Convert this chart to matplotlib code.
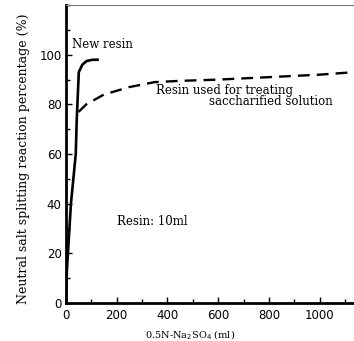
import matplotlib
matplotlib.use("Agg")
import matplotlib.pyplot as plt
from matplotlib.ticker import MultipleLocator

# volume of 0.5N-Na2SO4 passed (ml) vs. splitting percentage (%)
new_x = [0, 4, 20, 39, 43, 51, 65, 82, 105, 130]
new_y = [0, 13, 40, 60, 74, 93, 96, 97.5, 98, 98]

used_x = [50, 80, 150, 250, 350, 450, 600, 800, 1000, 1135]
used_y = [77, 80, 84, 87, 89, 89.5, 90, 91, 92, 93]

x_ticks = [0, 200, 400, 600, 800, 1000]
y_ticks = [0, 20, 40, 60, 80, 100]

fig = plt.figure(figsize=(3.54, 3.41), dpi=100)
ax = fig.add_axes([0.186, 0.111, 0.814, 0.874])

ax.plot(new_x, new_y, color="black", lw=1.9, solid_capstyle="butt")
ax.plot(used_x, used_y, color="black", lw=1.7, dashes=(5, 3))

ax.set_xlim(0, 1135)
ax.set_ylim(0, 120)
ax.set_xticks(x_ticks)
ax.set_yticks(y_ticks)
ax.xaxis.set_minor_locator(MultipleLocator(100))
ax.yaxis.set_minor_locator(MultipleLocator(10))
ax.tick_params(direction="in", which="both", labelsize=8.5, width=1)
ax.tick_params(which="major", length=4)
ax.tick_params(which="minor", length=3)
ax.tick_params(axis="x", pad=4)
ax.tick_params(axis="y", pad=3)

ax.spines["left"].set_linewidth(2)
ax.spines["bottom"].set_linewidth(2)
ax.spines["right"].set_visible(False)
ax.spines["top"].set_linewidth(0.8)
ax.spines["top"].set_color("#777777")

serif = "DejaVu Serif"
ax.text(25, 104, "New resin", fontsize=8.5, family=serif, va="center")
ax.text(355, 85.5, "Resin used for treating", fontsize=8.5, family=serif, va="center")
ax.text(565, 81, "saccharified solution", fontsize=8.5, family=serif, va="center")
ax.text(200, 33, "Resin: 10ml", fontsize=8.5, family=serif, va="center")

ax.set_xlabel("0.5N-Na$_2$SO$_4$ (ml)", fontsize=7, family=serif)
ax.xaxis.set_label_coords(0.431, -0.085)
ax.set_ylabel("Neutral salt splitting reaction percentage (%)", fontsize=9,
              family=serif)
ax.yaxis.set_label_coords(-0.125, 0.485)

fig.savefig("out.png", dpi=100)
